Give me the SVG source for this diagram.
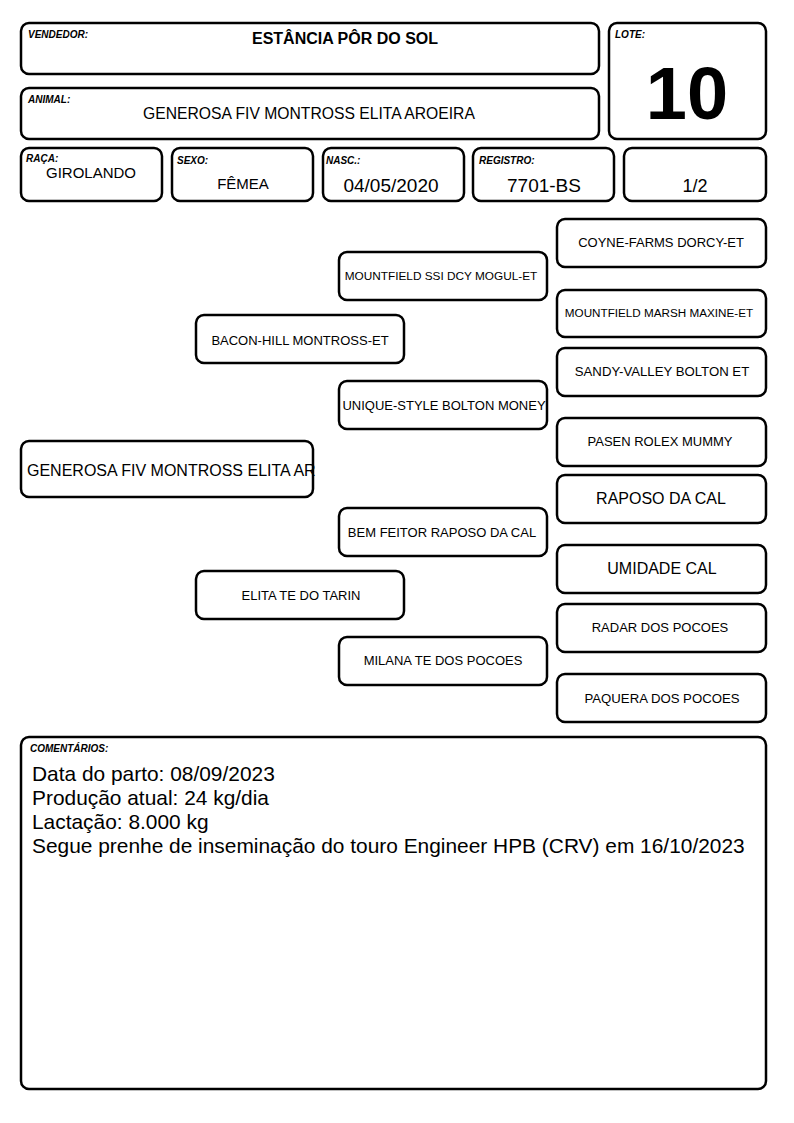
<svg xmlns="http://www.w3.org/2000/svg" width="794" height="1123" viewBox="0 0 794 1123">
<style>
.b{fill:#fff;stroke:#000;stroke-width:2.5}
text{font-family:"Liberation Sans",Arial,sans-serif;fill:#000}
.l{font-size:10px;font-style:italic;font-weight:bold}
.c{text-anchor:middle}
</style>
<rect width="794" height="1123" fill="#fff"/>
<g id="vendedor"><rect class="b" x="21" y="23" width="578" height="51" rx="8"/><text class="l" x="28" y="38">VENDEDOR:</text><text class="c" x="345" y="44" font-size="16" font-weight="bold">ESTÂNCIA PÔR DO SOL</text></g>
<g id="lote"><rect class="b" x="609" y="23" width="157" height="116" rx="8"/><text class="l" x="615" y="38">LOTE:</text><text class="c" x="687" y="119" font-size="74" font-weight="bold">10</text></g>
<g id="animal"><rect class="b" x="21" y="88" width="578" height="51" rx="8"/><text class="l" x="28" y="103">ANIMAL:</text><text class="c" x="309" y="119" font-size="15.7">GENEROSA FIV MONTROSS ELITA AROEIRA</text></g>
<g id="raca"><rect class="b" x="21" y="148" width="141" height="53" rx="8"/><text class="l" x="26" y="162">RAÇA:</text><text class="c" x="91" y="178" font-size="15">GIROLANDO</text></g>
<g id="sexo"><rect class="b" x="172" y="148" width="141" height="53" rx="8"/><text class="l" x="177" y="164">SEXO:</text><text class="c" x="243" y="189" font-size="15">FÊMEA</text></g>
<g id="nasc"><rect class="b" x="323" y="148" width="141" height="53" rx="8"/><text class="l" x="326" y="164">NASC.:</text><text class="c" x="391" y="192" font-size="19">04/05/2020</text></g>
<g id="registro"><rect class="b" x="473" y="148" width="141" height="53" rx="8"/><text class="l" x="479" y="164">REGISTRO:</text><text class="c" x="544" y="192" font-size="19">7701-BS</text></g>
<g id="pagina"><rect class="b" x="624" y="148" width="142" height="53" rx="8"/><text class="c" x="695" y="192" font-size="18">1/2</text></g>

<g id="connectors"></g>

<g id="p0"><rect class="b" x="21" y="441" width="292" height="56" rx="8"/><text x="27" y="476" font-size="16">GENEROSA FIV MONTROSS ELITA AR</text></g>
<g id="p1"><rect class="b" x="196" y="315" width="208" height="48" rx="8"/><text class="c" x="300" y="345" font-size="13">BACON-HILL MONTROSS-ET</text></g>
<g id="p2"><rect class="b" x="196" y="571" width="208" height="48" rx="8"/><text class="c" x="301" y="600" font-size="13">ELITA TE DO TARIN</text></g>
<g id="p3"><rect class="b" x="339" y="252" width="208" height="48" rx="8"/><text class="c" x="441" y="280" font-size="11.8">MOUNTFIELD SSI DCY MOGUL-ET</text></g>
<g id="p4"><rect class="b" x="339" y="381" width="208" height="48" rx="8"/><text class="c" x="444" y="410" font-size="13">UNIQUE-STYLE BOLTON MONEY</text></g>
<g id="p5"><rect class="b" x="339" y="508" width="208" height="48" rx="8"/><text class="c" x="442" y="537" font-size="13">BEM FEITOR RAPOSO DA CAL</text></g>
<g id="p6"><rect class="b" x="339" y="637" width="208" height="48" rx="8"/><text class="c" x="443" y="665" font-size="13">MILANA TE DOS POCOES</text></g>
<g id="p7"><rect class="b" x="557" y="219" width="209" height="48" rx="8"/><text class="c" x="661" y="247" font-size="13">COYNE-FARMS DORCY-ET</text></g>
<g id="p8"><rect class="b" x="557" y="290" width="209" height="47" rx="8"/><text class="c" x="659" y="317" font-size="11.7">MOUNTFIELD MARSH MAXINE-ET</text></g>
<g id="p9"><rect class="b" x="557" y="348" width="209" height="48" rx="8"/><text class="c" x="662" y="376" font-size="13.2">SANDY-VALLEY BOLTON ET</text></g>
<g id="p10"><rect class="b" x="557" y="418" width="209" height="48" rx="8"/><text class="c" x="660" y="446" font-size="13">PASEN ROLEX MUMMY</text></g>
<g id="p11"><rect class="b" x="557" y="475" width="209" height="48" rx="8"/><text class="c" x="661" y="504" font-size="16">RAPOSO DA CAL</text></g>
<g id="p12"><rect class="b" x="557" y="545" width="209" height="48" rx="8"/><text class="c" x="662" y="574" font-size="16">UMIDADE CAL</text></g>
<g id="p13"><rect class="b" x="557" y="604" width="209" height="48" rx="8"/><text class="c" x="660" y="632" font-size="13">RADAR DOS POCOES</text></g>
<g id="p14"><rect class="b" x="557" y="674" width="209" height="48" rx="8"/><text class="c" x="662" y="703" font-size="13.2">PAQUERA DOS POCOES</text></g>

<g id="comentarios"><rect class="b" x="21" y="737" width="745" height="352" rx="8"/><text class="l" x="30" y="752" font-size="9.5">COMENTÁRIOS:</text>
<text font-size="20.9"><tspan x="32" y="781">Data do parto: 08/09/2023</tspan><tspan x="32" y="805">Produção atual: 24 kg/dia</tspan><tspan x="32" y="829">Lactação: 8.000 kg</tspan><tspan x="32" y="853">Segue prenhe de inseminação do touro Engineer HPB (CRV) em 16/10/2023</tspan></text></g>
</svg>
